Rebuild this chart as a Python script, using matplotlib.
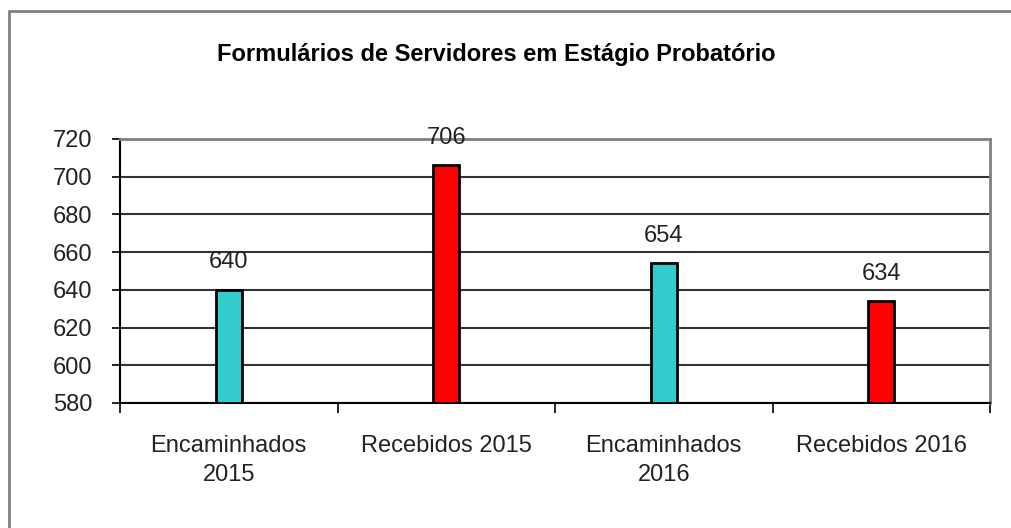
import matplotlib
matplotlib.use("Agg")
import matplotlib.pyplot as plt
from matplotlib.patches import Rectangle

plt.rcParams["font.family"] = ["Liberation Sans", "DejaVu Sans"]

# data
categories = ["Encaminhados\n2015", "Recebidos 2015", "Encaminhados\n2016", "Recebidos 2016"]
values = [640, 706, 654, 634]
bar_colors = ["#33CCCC", "#FF0000", "#33CCCC", "#FF0000"]
y_ticks = [580, 600, 620, 640, 660, 680, 700, 720]
title = "Formulários de Servidores em Estágio Probatório"

W, H = 1011, 528
fig = plt.figure(figsize=(W / 100, H / 100), dpi=100)
fig.patch.set_facecolor("white")

# outer chart frame (cropped at right / bottom)
fig.patches.append(Rectangle((9 / W, -0.1), 1.2, 1 - 11 / H + 0.1,
                             transform=fig.transFigure, fill=False,
                             edgecolor="#808080", linewidth=2))

ax = fig.add_axes([120 / W, 1 - 403 / H, 870 / W, 264 / H])
x = range(len(categories))
ax.bar(x, [v - 580 for v in values], bottom=580, width=0.12, color=bar_colors,
       edgecolor="black", linewidth=2, zorder=3)

for xi, v in zip(x, values):
    ax.annotate(str(v), (xi, v), xytext=(0, 12), textcoords="offset points",
                ha="center", va="bottom", fontsize=17, color="#222222", zorder=4)

ax.set_xlim(-0.5, len(categories) - 0.5)
ax.set_ylim(580, 720)
ax.set_yticks(y_ticks)
ax.tick_params(axis="y", labelsize=17, length=6, width=1.2, pad=14,
               labelcolor="#222222")
ax.yaxis.grid(True, color="#333333", linewidth=1.5, zorder=1)

ax.set_xticks([i - 0.5 for i in range(len(categories) + 1)])
ax.set_xticklabels([])
ax.tick_params(axis="x", which="major", length=7, width=1.2)
ax.set_xticks(list(x), minor=True)
ax.set_xticklabels(categories, minor=True, fontsize=17, color="#222222",
                   linespacing=1.4)
ax.tick_params(axis="x", which="minor", length=0, pad=23)

for side in ["left", "bottom"]:
    ax.spines[side].set_color("black")
    ax.spines[side].set_linewidth(1.5)
for side in ["top", "right"]:
    ax.spines[side].set_color("#808080")
    ax.spines[side].set_linewidth(2)

fig.text(496 / W, 1 - 55 / H, title, ha="center", va="center",
         fontsize=17, fontweight="bold", color="black")

fig.savefig("out.png", dpi=100, facecolor="white")
